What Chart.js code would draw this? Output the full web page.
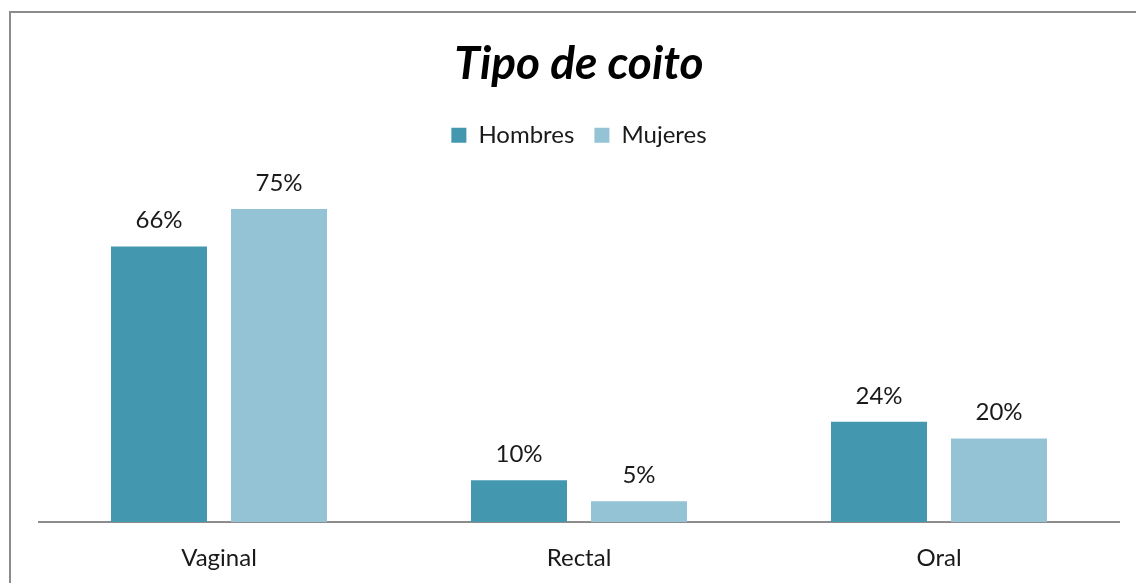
<!DOCTYPE html>
<html>
<head>
<meta charset="utf-8">
<script src="https://cdn.jsdelivr.net/npm/chart.js@4"></script>
<style>
  html, body { margin: 0; padding: 0; background: #fff; overflow: hidden; }
  #frame { position: absolute; left: 9px; top: 11px; width: 1200px; height: 700px; border: 2px solid #8c8c8c; box-sizing: border-box; }
  #wrap { position: absolute; left: 0; top: 0; width: 1136px; height: 583px; }
</style>
</head>
<body>
<div id="frame"></div>
<div id="wrap"><canvas id="chart"></canvas></div>
<script>
const categories = ['Vaginal', 'Rectal', 'Oral'];
const hombres = [66, 10, 24];
const mujeres = [75, 5, 20];

const FONT = 'Lato, "Open Sans", sans-serif';

// etiquetas de valor encima de las barras
const valueLabels = {
    id: 'valueLabels',
    afterDatasetsDraw(chart) {
        const ctx = chart.ctx;
        ctx.save();
        ctx.font = '24px ' + FONT;
        ctx.fillStyle = '#1a1a1a';
        ctx.textAlign = 'center';
        ctx.textBaseline = 'middle';
        chart.data.datasets.forEach((ds, i) => {
            chart.getDatasetMeta(i).data.forEach((bar, j) => {
                ctx.fillText(ds.data[j] + '%', bar.x, bar.y - 26);
            });
        });
        ctx.restore();
    }
};

new Chart(document.getElementById('chart'), {
    type: 'bar',
    data: {
        labels: categories,
        datasets: [
            { label: 'Hombres', data: hombres, backgroundColor: '#4398b0' },
            { label: 'Mujeres', data: mujeres, backgroundColor: '#93c3d4' }
        ]
    },
    options: {
        responsive: true,
        maintainAspectRatio: false,
        animation: false,
        categoryPercentage: 0.6667,
        barPercentage: 0.8,
        layout: { padding: { left: 39, right: 17, top: 0, bottom: 12 } },
        plugins: {
            tooltip: { enabled: false },
            title: {
                display: true,
                text: 'Tipo de coito',
                color: '#000',
                font: { family: FONT, size: 46, weight: 'bold', style: 'italic' },
                padding: { top: 37, bottom: 11 }
            },
            legend: {
                position: 'top',
                labels: {
                    color: '#1a1a1a',
                    font: { family: FONT, size: 24 },
                    boxWidth: 15,
                    boxHeight: 15,
                    padding: 20
                }
            }
        },
        scales: {
            x: {
                grid: { display: false },
                border: { color: '#8c8c8c', width: 2 },
                ticks: { color: '#1a1a1a', font: { family: FONT, size: 24 }, padding: 14 },
                afterFit(scale) { scale.height = 49; }
            },
            y: {
                display: false,
                min: 0,
                max: 87.4
            }
        }
    },
    plugins: [valueLabels]
});
</script>
</body>
</html>
